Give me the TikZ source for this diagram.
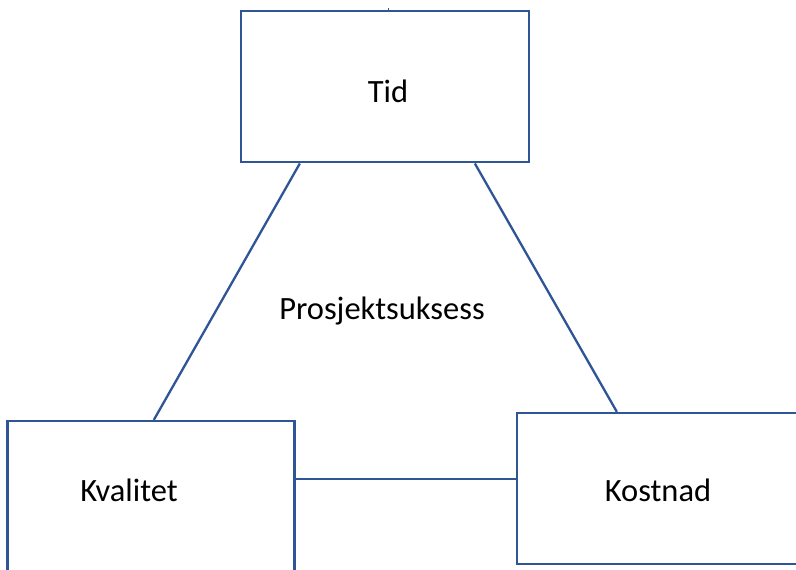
\documentclass[tikz,border=0pt]{standalone}
\usepackage{fontspec}
\setmainfont{Carlito}
\definecolor{boxblue}{RGB}{47,85,151}
\begin{document}
\begin{tikzpicture}[
  x=1pt,y=-1pt,
  every node/.style={font=\fontsize{32.5}{36}\selectfont},
  box/.style={rectangle,draw=boxblue,line width=2.3pt,fill=white,minimum width=288pt,minimum height=151pt,inner sep=0pt},
  link/.style={draw=boxblue,line width=2.3pt}
]
\clip (0,0) rectangle (796,570);
\fill[white] (0,0) rectangle (796,570);
\draw[boxblue,line width=1pt] (388,8) coordinate (tick) -- (388,11);
\node[box] (tid) at (385,86.8) {};
\node (tidtxt) at (388,91) {Tid};
\node[box,minimum width=287pt] (kval) at (151,496.5) {};
\node (kvaltxt) at (129,490) {Kvalitet};
\node[box] (kost) at (661,488.5) {};
\node (kosttxt) at (658,490) {Kostnad};
\node (midt) at (382,311) {Prosjektsuksess};
\draw[link] ([xshift=60pt]tid.south west) -- ([xshift=147.5pt]kval.north west);
\draw[link] ([xshift=235pt]tid.south west) -- ([xshift=101pt]kost.north west);
\draw[link] ([yshift=17.5pt]kval.east) -- ([yshift=9.5pt]kost.west);
\end{tikzpicture}
\end{document}
